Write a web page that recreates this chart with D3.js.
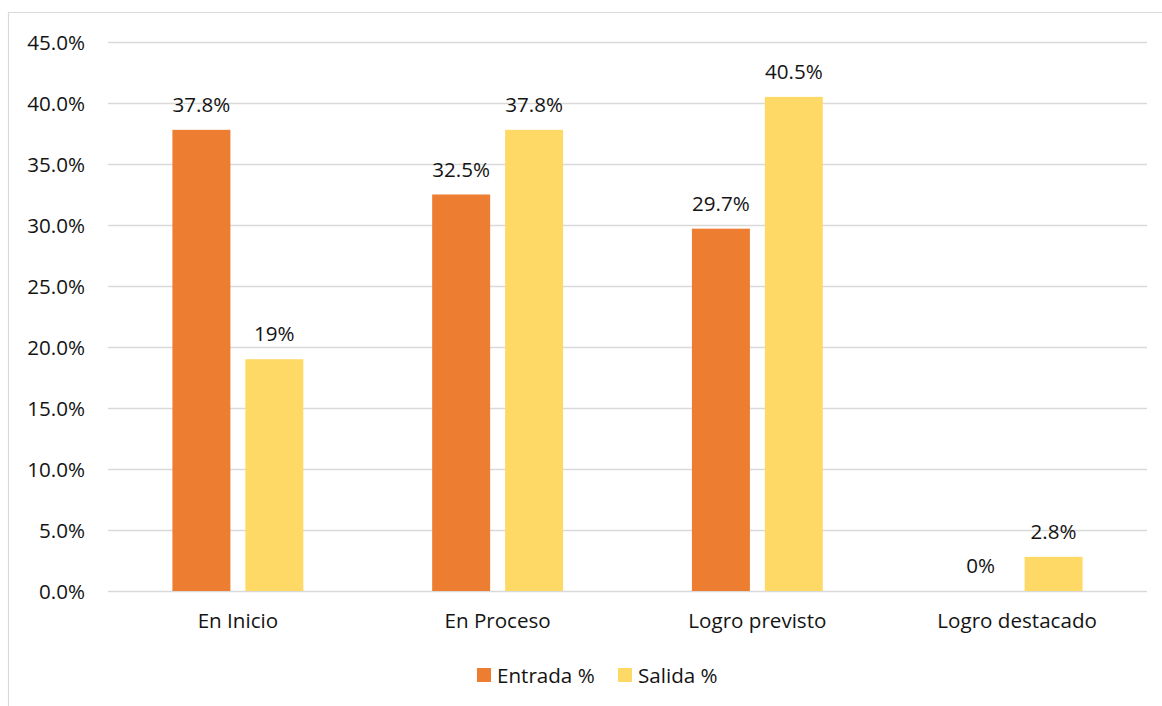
<!DOCTYPE html>
<html>
<head>
<meta charset="utf-8">
<script src="https://cdn.jsdelivr.net/npm/d3@7"></script>
<style>
  html, body { margin: 0; padding: 0; background: #fff; }
  svg { display: block; font-family: "Open Sans", "Liberation Sans", sans-serif; }
</style>
</head>
<body>
<svg id="chart" width="1162" height="706"></svg>
<script>
const categories = ["En Inicio", "En Proceso", "Logro previsto", "Logro destacado"];
const seriesNames = ["Entrada %", "Salida %"];
const entrada = [37.8, 32.5, 29.7, 0];
const salida = [19, 37.8, 40.5, 2.8];
const entradaLabels = ["37.8%", "32.5%", "29.7%", "0%"];
const salidaLabels = ["19%", "37.8%", "40.5%", "2.8%"];
const yTicks = [0, 5, 10, 15, 20, 25, 30, 35, 40, 45];
const colors = ["#ED7D31", "#FFD966"];

(function () {
const svg = d3.select("#chart");
const W = 1162, H = 706;
const mLeft = 108, mRight = 1147, mTop = 42, mBottom = 591;
const FS = 20.6;
const TXT = "#141414";

svg.append("path")
  .attr("d", `M8.5,${H} L8.5,12.5 L${W},12.5`)
  .attr("fill", "none").attr("stroke", "#D9D9D9").attr("stroke-width", 1.2);

const y = d3.scaleLinear().domain([0, 45]).range([mBottom, mTop]);
const x0 = d3.scaleBand().domain(categories).range([mLeft, mRight]).paddingInner(0.496).paddingOuter(0.248);
const x1 = d3.scaleBand().domain(seriesNames).range([0, x0.bandwidth()]).paddingInner(0.205);

svg.append("g").selectAll("line").data(yTicks).join("line")
  .attr("x1", mLeft).attr("x2", mRight)
  .attr("y1", d => Math.round(y(d)) + 0.5).attr("y2", d => Math.round(y(d)) + 0.5)
  .attr("stroke", "#D9D9D9").attr("stroke-width", 1.3);

const yAxis = d3.axisLeft(y).tickValues(yTicks).tickFormat(d => d.toFixed(1) + "%").tickSize(0).tickPadding(0);
const ya = svg.append("g").attr("transform", "translate(85,0)").call(yAxis);
ya.select(".domain").remove();
ya.selectAll("text").attr("font-size", FS).attr("fill", TXT)
  .attr("font-family", '"Open Sans", sans-serif').attr("dy", "0.35em");

const data = categories.map((c, i) => ({ c, vals: [entrada[i], salida[i]], labels: [entradaLabels[i], salidaLabels[i]] }));
const groups = svg.append("g").selectAll("g").data(data).join("g")
  .attr("transform", d => `translate(${x0(d.c)},0)`);

groups.selectAll("rect").data(d => d.vals.map((v, j) => ({ v, j, s: seriesNames[j] })))
  .join("rect")
  .attr("x", d => x1(d.s))
  .attr("width", x1.bandwidth())
  .attr("y", d => y(d.v))
  .attr("height", d => y(0) - y(d.v))
  .attr("fill", d => colors[d.j]);

groups.selectAll("text").data(d => d.vals.map((v, j) => ({ v, j, s: seriesNames[j], label: d.labels[j] })))
  .join("text")
  .attr("x", d => x1(d.s) + x1.bandwidth() / 2)
  .attr("y", d => y(d.v) - 18)
  .attr("text-anchor", "middle")
  .attr("font-size", FS)
  .attr("fill", TXT)
  .text(d => d.label);

const xAxis = d3.axisBottom(x0).tickSize(0).tickPadding(0);
const xa = svg.append("g").attr("transform", `translate(0,${mBottom})`).call(xAxis);
xa.select(".domain").remove();
xa.selectAll("text").attr("font-size", FS).attr("fill", TXT)
  .attr("font-family", '"Open Sans", sans-serif').attr("dy", 0).attr("y", 37);

const legendX = [477, 618];
const lg = svg.append("g").selectAll("g").data(seriesNames).join("g")
  .attr("transform", (d, i) => `translate(${legendX[i]},668)`);
lg.append("rect").attr("width", 14).attr("height", 14).attr("fill", (d, i) => colors[i]);
lg.append("text").attr("x", 20).attr("y", 14.5).attr("font-size", FS).attr("fill", TXT).text(d => d);
})();
</script>
</body>
</html>
